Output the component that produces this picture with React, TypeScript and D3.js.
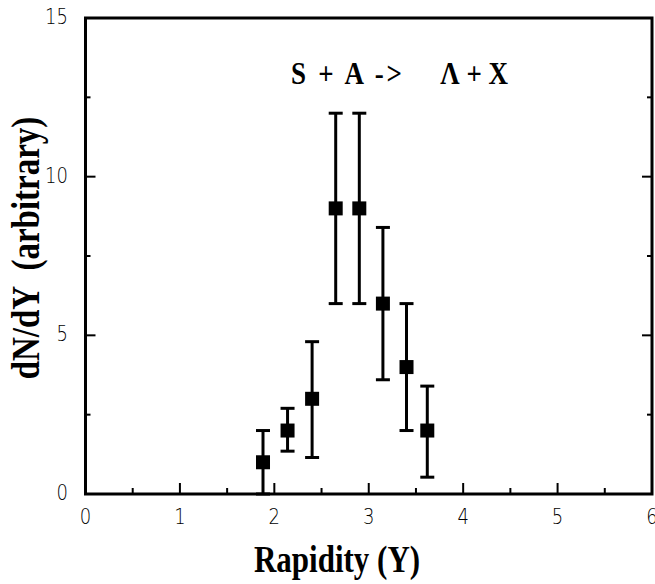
import React from "react";
import * as d3 from "d3";

const rapidity = [1.88, 2.14, 2.4, 2.65, 2.9, 3.15, 3.4, 3.62];
const dndy = [1.0, 2.0, 3.0, 9.0, 9.0, 6.0, 4.0, 2.0];
const errHigh = [2.0, 2.7, 4.8, 12.0, 12.0, 8.4, 6.0, 3.4];
const errLow = [0.0, 1.35, 1.15, 6.0, 6.0, 3.6, 2.0, 0.53];
const xTicks = [0, 1, 2, 3, 4, 5, 6];
const xMinor = [0.5, 1.5, 2.5, 3.5, 4.5, 5.5];
const yTicks = [0, 5, 10, 15];
const yMinor = [2.5, 7.5, 12.5];

export default function App() {
  const W = 655, H = 584;
  const left = 85.5, right = 652, top = 18, bottom = 494;
  const x = d3.scaleLinear().domain([0, 6]).range([left, right]);
  const y = d3.scaleLinear().domain([0, 15]).range([bottom, top]);
  const tickFont = "'DejaVu Sans', sans-serif";
  const serif = "'Liberation Serif', 'Times New Roman', serif";
  const sy = 1.2;
  return (
    <svg width={W} height={H} style={{ position: "absolute", left: 0, top: 0 }}>
      <rect x={0} y={0} width={W} height={H} fill="#fff" />
      <rect x={left} y={top} width={right - left} height={bottom - top} fill="none" stroke="#000" strokeWidth={3} />
      {xTicks.slice(1, -1).map((t) => (
        <line key={"xt" + t} x1={x(t)} x2={x(t)} y1={bottom} y2={bottom - 11} stroke="#000" strokeWidth={2} />
      ))}
      {xMinor.map((t) => (
        <line key={"xm" + t} x1={x(t)} x2={x(t)} y1={bottom} y2={bottom - 6} stroke="#000" strokeWidth={2} />
      ))}
      {yTicks.slice(1, -1).map((t) => (
        <g key={"yt" + t}>
          <line x1={left} x2={left + 10} y1={y(t)} y2={y(t)} stroke="#000" strokeWidth={2} />
          <line x1={right} x2={right - 10} y1={y(t)} y2={y(t)} stroke="#000" strokeWidth={2} />
        </g>
      ))}
      {yMinor.map((t) => (
        <g key={"ym" + t}>
          <line x1={left} x2={left + 5} y1={y(t)} y2={y(t)} stroke="#000" strokeWidth={2} />
          <line x1={right} x2={right - 5} y1={y(t)} y2={y(t)} stroke="#000" strokeWidth={2} />
        </g>
      ))}
      {xTicks.map((t) => (
        <text key={"xl" + t} transform={`translate(${x(t)}, 524) scale(1, ${sy})`} textAnchor="middle" fontFamily={tickFont} fontWeight={200} fontSize={18} fill="#000">
          {t}
        </text>
      ))}
      {yTicks.map((t) => (
        <text key={"yl" + t} transform={`translate(68, ${y(t) + 6}) scale(1, ${sy})`} textAnchor="end" fontFamily={tickFont} fontWeight={200} fontSize={18} fill="#000">
          {t}
        </text>
      ))}
      {rapidity.map((r, i) => (
        <g key={"p" + i}>
          <line x1={x(r)} x2={x(r)} y1={y(errLow[i])} y2={y(errHigh[i])} stroke="#000" strokeWidth={3} />
          <line x1={x(r) - 7} x2={x(r) + 7} y1={y(errHigh[i])} y2={y(errHigh[i])} stroke="#000" strokeWidth={3} />
          <line x1={x(r) - 7} x2={x(r) + 7} y1={y(errLow[i])} y2={y(errLow[i])} stroke="#000" strokeWidth={3} />
          <rect x={x(r) - 7} y={y(dndy[i]) - 7} width={14} height={14} fill="#000" />
        </g>
      ))}
      <text transform={`translate(291, 84) scale(1, ${sy})`} fontFamily={serif} fontWeight="bold" fontSize={27} fill="#000" textLength={111} lengthAdjust="spacing">
        S + A -&gt;
      </text>
      <text transform={`translate(508, 84) scale(1, ${sy})`} textAnchor="end" fontFamily={serif} fontWeight="bold" fontSize={27} fill="#000">
        Λ + X
      </text>
      <text transform={`translate(337, 572) scale(1, ${sy})`} textAnchor="middle" fontFamily={serif} fontWeight="bold" fontSize={31} fill="#000">
        Rapidity (Y)
      </text>
      <text transform={`translate(39, 248) rotate(-90) scale(1, ${sy})`} textAnchor="middle" fontFamily={serif} fontWeight="bold" fontSize={33} fill="#000" style={{ whiteSpace: "pre" }}>
        {"dN/dY  (arbitrary)"}
      </text>
    </svg>
  );
}
